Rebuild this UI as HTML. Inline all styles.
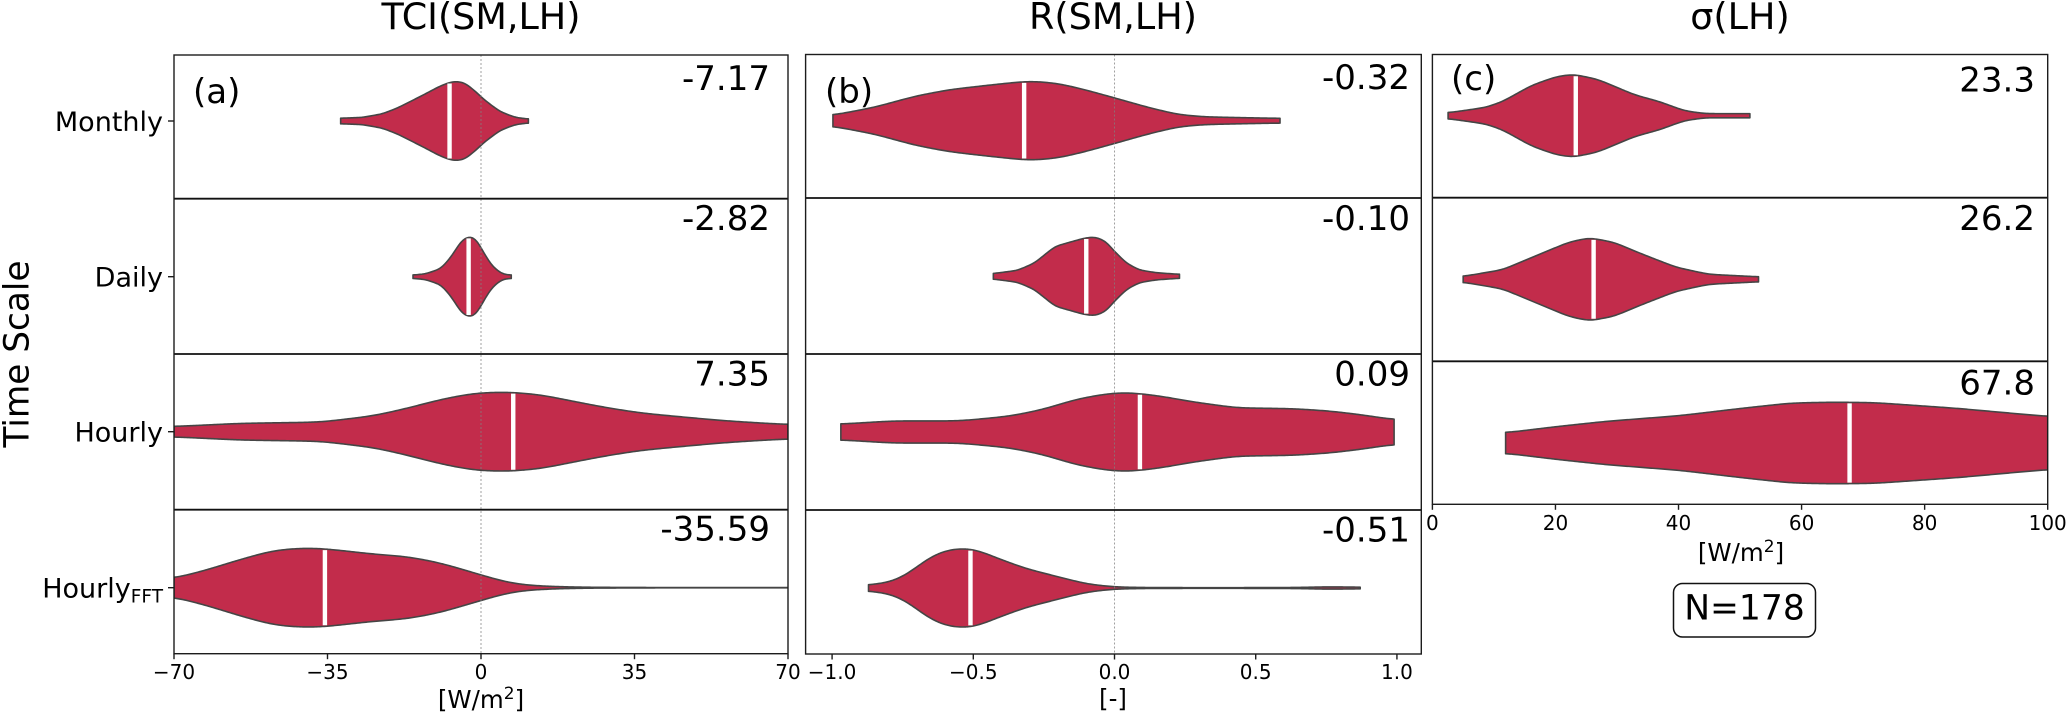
<!DOCTYPE html>
<html lang="en">
<head>
<meta charset="utf-8">
<title>Violin plots of TCI, R and sigma by time scale</title>
<style>
  html, body { margin: 0; padding: 0; background: #fff; width: 2067px; height: 713px; overflow: hidden; }
  svg { display: block; }
  text { font-family: "DejaVu Sans", "Liberation Sans", sans-serif; fill: #000; }
</style>
</head>
<body>
<svg id="chart" xmlns="http://www.w3.org/2000/svg" width="2067" height="713" viewBox="0 0 2067 713">
  <rect x="0" y="0" width="2067" height="713" fill="#ffffff"/>
  <text transform="translate(28.5,354) rotate(-90)" text-anchor="middle" font-size="34.3">Time Scale</text>
  <rect x="1673.5" y="583.5" width="142" height="53.5" rx="9" ry="9" fill="#fff" stroke="#111" stroke-width="1.5"/>
  <text x="1744.5" y="619.5" text-anchor="middle" font-size="34.5">N=178</text>
</svg>
<script>
// ---------- data: categories ----------
const categories = ['Monthly', 'Daily', 'Hourly', 'HourlyFFT'];

// ---------- data: panel (a) TCI(SM,LH) ----------
const tciMedians = [-7.17, -2.82, 7.35, -35.59];
const tciTicks = [-70, -35, 0, 35, 70];
const tciTickLabels = ['\u221270', '\u221235', '0', '35', '70'];
const tciMonthlyX = [-32, -27.1, -22.5, -19, -13.1, -9.7, -7.3, -5.8, -3.8, -1.5, 0.8, 4.3, 7.8, 10.8];
const tciMonthlyDensity = [0.07, 0.09, 0.18, 0.33, 0.66, 0.86, 0.97, 1, 0.97, 0.77, 0.53, 0.24, 0.09, 0.05];
const tciDailyX = [-15.5, -12.6, -9.1, -6.7, -4.4, -2.4, -0.9, 0.8, 2.6, 4.9, 6.9];
const tciDailyDensity = [0.04, 0.07, 0.2, 0.5, 0.9, 1, 0.9, 0.55, 0.25, 0.06, 0.04];
const tciHourlyX = [-70, -54.8, -36.6, -24.4, -16.8, -9.2, -1.6, 6, 13.6, 21.2, 28.8, 36.4, 44, 55, 62, 70];
const tciHourlyDensity = [0.13, 0.21, 0.24, 0.4, 0.59, 0.81, 0.97, 1, 0.93, 0.76, 0.6, 0.47, 0.39, 0.28, 0.23, 0.18];
const tciFftX = [-70, -62.4, -54.8, -47.2, -39.6, -35, -24.4, -16.8, -9.2, 0, 6, 10.6, 17.4, 25, 44, 70];
const tciFftDensity = [0.23, 0.45, 0.71, 0.94, 1, 0.97, 0.84, 0.78, 0.62, 0.32, 0.13, 0.06, 0.025, 0.01, 0.003, 0.003];

// ---------- data: panel (b) R(SM,LH) ----------
const corrMedians = [-0.32, -0.10, 0.09, -0.51];
const corrTicks = [-1, -0.5, 0, 0.5, 1];
const corrTickLabels = ['\u22121.0', '\u22120.5', '0.0', '0.5', '1.0'];
const corrMonthlyX = [-0.997, -0.851, -0.702, -0.583, -0.449, -0.329, -0.277, -0.195, -0.106, 0, 0.118, 0.222, 0.311, 0.431, 0.586];
const corrMonthlyDensity = [0.14, 0.34, 0.63, 0.79, 0.9, 0.99, 1, 0.94, 0.79, 0.58, 0.34, 0.16, 0.1, 0.08, 0.06];
const corrDailyX = [-0.429, -0.344, -0.285, -0.21, -0.106, -0.069, -0.031, 0, 0.043, 0.088, 0.148, 0.23];
const corrDailyDensity = [0.07, 0.15, 0.33, 0.76, 0.97, 1, 0.89, 0.63, 0.33, 0.16, 0.09, 0.05];
const corrHourlyX = [-0.969, -0.784, -0.548, -0.371, -0.253, -0.135, -0.017, 0.054, 0.161, 0.279, 0.432, 0.633, 0.763, 0.88, 0.99];
const corrHourlyDensity = [0.2, 0.28, 0.28, 0.4, 0.57, 0.83, 0.98, 1, 0.91, 0.76, 0.61, 0.59, 0.53, 0.43, 0.31];
const corrFftX = [-0.871, -0.784, -0.725, -0.666, -0.607, -0.542, -0.489, -0.406, -0.312, -0.194, -0.099, 0, 0.1, 0.338, 0.639, 0.759, 0.87];
const corrFftDensity = [0.07, 0.16, 0.38, 0.72, 0.93, 1, 0.96, 0.72, 0.48, 0.27, 0.1, 0.025, 0.012, 0.008, 0.012, 0.03, 0.02];

// ---------- data: panel (c) sigma(LH) ----------
const sigmaMedians = [23.3, 26.2, 67.8];
const sigmaTicks = [0, 20, 40, 60, 80, 100];
const sigmaTickLabels = ['0', '20', '40', '60', '80', '100'];
const sigmaMonthlyX = [2.55, 8.7, 11.4, 16.1, 20.1, 22.8, 26.8, 32.9, 36.9, 40.9, 44.3, 51.6];
const sigmaMonthlyDensity = [0.07, 0.2, 0.34, 0.73, 0.94, 1, 0.88, 0.5, 0.34, 0.12, 0.05, 0.05];
const sigmaDailyX = [5, 11.4, 17.4, 22.1, 25.5, 29.5, 34.2, 39.6, 44.9, 53];
const sigmaDailyDensity = [0.07, 0.23, 0.6, 0.89, 1, 0.89, 0.6, 0.29, 0.12, 0.06];
const sigmaHourlyX = [11.9, 20.1, 28.2, 40.2, 50.3, 58.3, 65, 71.8, 85.2, 100];
const sigmaHourlyDensity = [0.25, 0.4, 0.53, 0.67, 0.85, 0.98, 1, 0.99, 0.85, 0.65];

// ---------- panel definitions (layout kept apart from the data arrays) ----------
const panels = [
  { id: 'a', title: 'TCI(SM,LH)', titleX: 481, letter: '(a)', letterX: 193, letterY: 103,
    left: 174, right: 788, domain: [-70, 70], ticks: tciTicks, tickLabels: tciTickLabels,
    tickBaseline: 679, xTitle: 'W', xTitleX: 481, xTitleY: 708,
    rowEdges: [55, 198.7, 354, 509.7, 653.7], rowOffsets: [66, 78, 77.7, 78], halfWidth: 39.3,
    medians: tciMedians, decimals: 2, labelRight: 770, labelBaselines: [90, 230, 385.7, 540.7],
    zero: true, showY: true,
    series: [[tciMonthlyX, tciMonthlyDensity], [tciDailyX, tciDailyDensity], [tciHourlyX, tciHourlyDensity], [tciFftX, tciFftDensity]] },
  { id: 'b', title: 'R(SM,LH)', titleX: 1113, letter: '(b)', letterX: 825, letterY: 103,
    left: 805.6, right: 1421.3, domain: [-1.0938, 1.0863], ticks: corrTicks, tickLabels: corrTickLabels,
    tickBaseline: 679, xTitle: '-', xTitleX: 1113, xTitleY: 707,
    rowEdges: [54.5, 198, 354, 510, 654], rowOffsets: [66.2, 78.3, 78, 78], halfWidth: 39,
    medians: corrMedians, decimals: 2, labelRight: 1410, labelBaselines: [89, 230, 385.7, 541.7],
    zero: true, showY: false,
    series: [[corrMonthlyX, corrMonthlyDensity], [corrDailyX, corrDailyDensity], [corrHourlyX, corrHourlyDensity], [corrFftX, corrFftDensity]] },
  { id: 'c', title: '\u03C3(LH)', titleX: 1740, letter: '(c)', letterX: 1451, letterY: 90,
    left: 1432.4, right: 2047.7, domain: [0, 100], ticks: sigmaTicks, tickLabels: sigmaTickLabels,
    tickBaseline: 530, xTitle: 'W', xTitleX: 1741, xTitleY: 561,
    rowEdges: [54.5, 197.7, 361.3, 504.3], rowOffsets: [61.2, 81.6, 81.7], halfWidth: 40.7,
    medians: sigmaMedians, decimals: 1, labelRight: 2035, labelBaselines: [91.7, 230, 394.3],
    zero: false, showY: false,
    series: [[sigmaMonthlyX, sigmaMonthlyDensity], [sigmaDailyX, sigmaDailyDensity], [sigmaHourlyX, sigmaHourlyDensity]] }
];

const SVG_NS = 'http://www.w3.org/2000/svg';
const root = document.getElementById('chart');
const FILL = '#c22c4b';
const EDGE = '#454545';
const FRAME = '#1c1c1c';

function make(tag, attrs, parent, textContent) {
  const el = document.createElementNS(SVG_NS, tag);
  for (const k in attrs) el.setAttribute(k, attrs[k]);
  if (textContent !== undefined) el.textContent = textContent;
  (parent || root).appendChild(el);
  return el;
}

function xAxis(panel) {
  const span = panel.domain[1] - panel.domain[0];
  return v => panel.left + (v - panel.domain[0]) / span * (panel.right - panel.left);
}

function rowCenter(panel, i) {
  return panel.rowEdges[i] + panel.rowOffsets[i];
}

function densityAt(xs, ds, v) {
  if (v <= xs[0]) return ds[0];
  for (let i = 1; i < xs.length; i++) {
    if (v <= xs[i]) {
      const t = (v - xs[i - 1]) / (xs[i] - xs[i - 1]);
      return ds[i - 1] + t * (ds[i] - ds[i - 1]);
    }
  }
  return ds[ds.length - 1];
}

// KDE-like outline: sample the read values along the pixel axis and apply a gaussian kernel
function outline(panel, xs, ds) {
  const x = xAxis(panel);
  const x0 = x(xs[0]);
  const x1 = x(xs[xs.length - 1]);
  const span = x1 - x0;
  const step = 1.5;
  const n = Math.max(2, Math.round(span / step) + 1);
  const raw = [];
  const px = [];
  for (let i = 0; i < n; i++) {
    const p = x0 + span * i / (n - 1);
    const v = xs[0] + (xs[xs.length - 1] - xs[0]) * i / (n - 1);
    px.push(p);
    raw.push(densityAt(xs, ds, v));
  }
  const sigma = Math.max(3.5, span * 0.019) / (span / (n - 1));
  const radius = Math.ceil(sigma * 3);
  const out = raw.map((_, i) => {
    let sum = 0, weight = 0;
    for (let j = -radius; j <= radius; j++) {
      const k = Math.min(n - 1, Math.max(0, i + j));
      const w = Math.exp(-0.5 * j * j / (sigma * sigma));
      sum += raw[k] * w;
      weight += w;
    }
    return sum / weight;
  });
  const rawMax = Math.max.apply(null, raw);
  const outMax = Math.max.apply(null, out);
  const gain = rawMax / outMax;
  return px.map((p, i) => [p, out[i] * gain]);
}

function violinPath(panel, cy, profile) {
  const hw = panel.halfWidth;
  const top = profile.map(pt => pt[0].toFixed(2) + ' ' + (cy - pt[1] * hw).toFixed(2));
  const bottom = profile.map(pt => pt[0].toFixed(2) + ' ' + (cy + pt[1] * hw).toFixed(2)).reverse();
  return 'M' + top.join('L') + 'L' + bottom.join('L') + 'Z';
}

function profileAt(profile, p) {
  let best = profile[0];
  for (const pt of profile) {
    if (Math.abs(pt[0] - p) < Math.abs(best[0] - p)) best = pt;
  }
  return best[1];
}

panels.forEach(panel => {
  const x = xAxis(panel);
  const topEdge = panel.rowEdges[0];
  const bottomEdge = panel.rowEdges[panel.rowEdges.length - 1];

  const group = make('g', {});
  
  

  const title = make('text', { x: panel.titleX, y: 29, 'text-anchor': 'middle', 'font-size': 36.5 }, group, panel.title);
  
  

  const clip = make('clipPath', { id: 'clip-' + panel.id }, group);
  make('rect', { x: panel.left, y: topEdge, width: panel.right - panel.left, height: bottomEdge - topEdge }, clip);

  panel.series.forEach((s, i) => {
    const xs = s[0];
    const ds = s[1];
    const cy = rowCenter(panel, i);
    const profile = outline(panel, xs, ds);
    const violin = make('path', { d: violinPath(panel, cy, profile), fill: FILL, stroke: EDGE, 'stroke-width': 1.6, 'stroke-linejoin': 'round', 'clip-path': 'url(#clip-' + panel.id + ')' }, group);
    
    

    const med = panel.medians[i];
    const dm = profileAt(profile, x(med)) * panel.halfWidth - 1;
    const medianLine = make('line', { x1: x(med), x2: x(med), y1: cy - dm, y2: cy + dm, stroke: '#ffffff', 'stroke-width': 4.4 }, group);
    
    

    const label = make('text', { x: panel.labelRight, y: panel.labelBaselines[i], 'text-anchor': 'end', 'font-size': 34 }, group, med.toFixed(panel.decimals));
    
    

    if (panel.showY) {
      const tick = make('line', { x1: panel.left - 6, x2: panel.left, y1: cy, y2: cy, stroke: FRAME, 'stroke-width': 1.4 }, group);
      
      

      const yLabel = make('text', { x: panel.left - 11, y: cy + 10, 'text-anchor': 'end', 'font-size': 27 }, group);
      
      
      if (categories[i] === 'HourlyFFT') {
        yLabel.appendChild(document.createTextNode('Hourly'));
        make('tspan', { dy: 5, 'font-size': 18.5 }, yLabel, 'FFT');
      } else {
        yLabel.textContent = categories[i];
      }
    }
  });

  if (panel.zero) {
    const zero = make('line', { x1: x(0), x2: x(0), y1: topEdge, y2: bottomEdge, stroke: '#808080', 'stroke-width': 1, 'stroke-dasharray': '2 2', 'stroke-opacity': 0.75 }, group);
    
    
  }

  panel.rowEdges.slice(1, -1).forEach((edge, k) => {
    const divider = make('line', { x1: panel.left, x2: panel.right, y1: edge, y2: edge, stroke: '#111', 'stroke-width': 1.8 }, group);
    
    
  });

  const frame = make('rect', { x: panel.left, y: topEdge, width: panel.right - panel.left, height: bottomEdge - topEdge, fill: 'none', stroke: FRAME, 'stroke-width': 1.4 }, group);
  
  

  panel.ticks.forEach((t, k) => {
    const tick = make('line', { x1: x(t), x2: x(t), y1: bottomEdge, y2: bottomEdge + 5.5, stroke: FRAME, 'stroke-width': 1.4 }, group);
    
    

    const tickLabel = make('text', { x: x(t), y: panel.tickBaseline, 'text-anchor': 'middle', 'font-size': 20 }, group, panel.tickLabels[k]);
    
    
  });

  const xTitle = make('text', { x: panel.xTitleX, y: panel.xTitleY, 'text-anchor': 'middle', 'font-size': 24.5 }, group);
  
  
  if (panel.xTitle === 'W') {
    xTitle.appendChild(document.createTextNode('[W/m'));
    make('tspan', { dy: -9, 'font-size': 17 }, xTitle, '2');
    make('tspan', { dy: 9 }, xTitle, ']');
  } else {
    xTitle.textContent = '[-]';
  }

  const letter = make('text', { x: panel.letterX, y: panel.letterY, 'font-size': 34 }, group, panel.letter);
  
  
});
</script>
</body>
</html>
